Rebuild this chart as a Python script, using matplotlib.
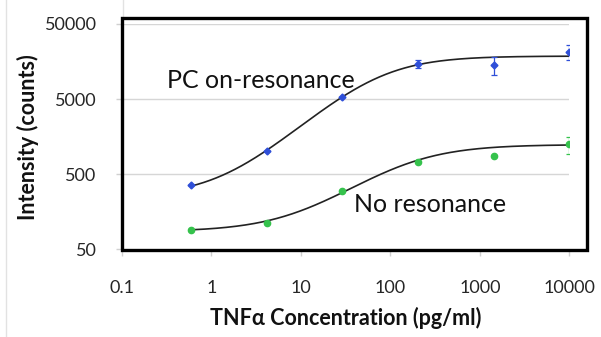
import matplotlib
matplotlib.use('Agg')
import matplotlib.pyplot as plt
import numpy as np
from matplotlib.patches import Rectangle
from matplotlib.lines import Line2D

# TNF-alpha dilution series (pg/ml) and measured intensities (counts)
concentration = [0.595, 4.16, 29.2, 204, 1429, 10000]

pc_intensity = [359, 1019, 5285, 14590, 14150, 21370]
pc_error = [0, 0, 0, 1800, 3800, 4800]

no_res_intensity = [91, 111, 296, 733, 881, 1250]
no_res_error = [0, 0, 0, 0, 0, 310]

# 4-parameter logistic fit parameters: bottom, top, EC50, hill slope
pc_fit = (250, 18700, 70, 1.1)
no_res_fit = (86, 1240, 140, 1.0)

y_ticks = [50, 500, 5000, 50000]
y_labels = ['50', '500', '5000', '50000']
x_ticks = [0.1, 1, 10, 100, 1000, 10000]
x_labels = ['0.1', '1', '10', '100', '1000', '10000']

plt.rcParams['font.family'] = ['Lato', 'DejaVu Sans']


def four_pl(x, bottom, top, ec50, hill):
    return bottom + (top - bottom) / (1 + (ec50 / x) ** hill)


fig = plt.figure(figsize=(6.01, 3.37), dpi=100)
ax = fig.add_axes([0.2025, 0.2602, 0.7448, 0.6686])

ax.set_xscale('log')
ax.set_yscale('log')
ax.set_xlim(0.1, 10000)
ax.set_ylim(50, 50000)

# light horizontal gridlines
for yv in y_ticks[1:]:
    ax.axhline(yv, color='#d6d6d6', lw=1.0, zorder=0)

# fitted curves
xs = np.logspace(np.log10(concentration[0]), np.log10(concentration[-1]), 300)
ax.plot(xs, four_pl(xs, *pc_fit), color='#222222', lw=1.2, zorder=2)
ax.plot(xs, four_pl(xs, *no_res_fit), color='#222222', lw=1.2, zorder=2)

# data points with error bars
ax.errorbar(concentration, pc_intensity, yerr=pc_error, fmt='D',
            color='#2f4fd8', ms=3.5, elinewidth=0.9, capsize=2, capthick=0.9,
            zorder=3)
ax.errorbar(concentration, no_res_intensity, yerr=no_res_error, fmt='o',
            color='#35c24c', ms=4.5, elinewidth=0.9, capsize=2, capthick=0.9,
            zorder=3)

for s in ax.spines.values():
    s.set_visible(False)

ax.set_xticks(x_ticks)
ax.set_xticklabels(x_labels)
ax.set_yticks(y_ticks)
ax.set_yticklabels(y_labels)
ax.minorticks_off()
ax.tick_params(axis='x', length=5, width=1, color='#d0d0d0', pad=17,
               labelsize=13, labelcolor='#262626')
ax.tick_params(axis='y', length=4, width=1, color='#d0d0d0', pad=14,
               labelsize=13, labelcolor='#262626')

ax.set_xlabel('TNF\u03b1 Concentration (pg/ml)', fontsize=15.5,
              fontweight='bold', labelpad=8, color='#111111')
ax.set_ylabel('Intensity (counts)', fontsize=15.5, fontweight='bold',
              labelpad=4, color='#111111')

ax.text(0.101, 0.751, 'PC on-resonance', transform=ax.transAxes,
        fontsize=18, va='center', ha='left', color='#111111')
ax.text(0.52, 0.2, 'No resonance', transform=ax.transAxes,
        fontsize=18, va='center', ha='left', color='#111111')

# thick black frame around the plot area
fig.patches.append(Rectangle((0.2025, 0.258), 0.9767 - 0.2025,
                             0.9466 - 0.258, transform=fig.transFigure,
                             fill=False, edgecolor='black', lw=2.4,
                             zorder=5))

# faint chart-area lines
fig.lines.append(Line2D([6 / 601, 6 / 601], [0.0, 1.0],
                        transform=fig.transFigure, color='#e2e2e2', lw=1))
fig.lines.append(Line2D([123 / 601, 123 / 601], [0.9466, 1.0],
                        transform=fig.transFigure, color='#e2e2e2', lw=1))

fig.savefig('out.png', dpi=100)
